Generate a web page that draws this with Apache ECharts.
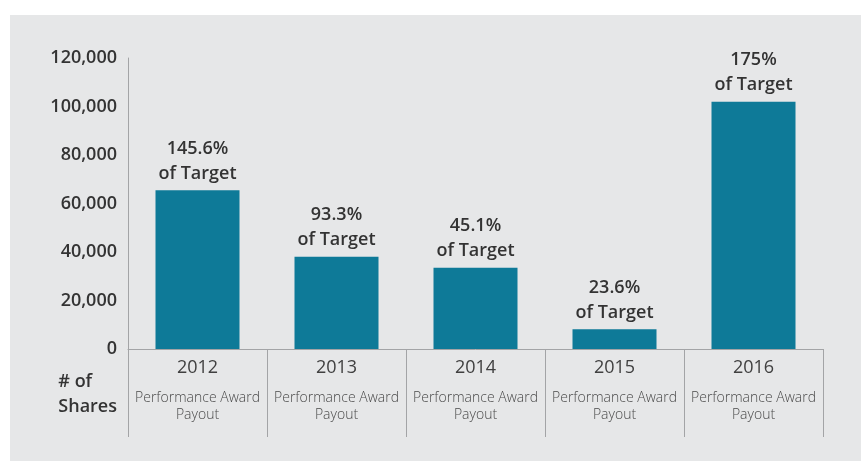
<!DOCTYPE html>
<html>
<head>
<meta charset="utf-8">
<script src="https://cdn.jsdelivr.net/npm/echarts@6/dist/echarts.min.js"></script>
<style>
    html, body { margin: 0; padding: 0; background: #fff; }
    #wrap { position: relative; width: 861px; height: 462px; }
    #bg { position: absolute; left: 10px; top: 15px; width: 851px; height: 446px; background: #e6e7e8; }
    #chart { position: absolute; left: 0; top: 0; width: 861px; height: 462px; }
</style>
</head>
<body>
<div id="wrap">
    <div id="bg"></div>
    <div id="chart"></div>
</div>
<script>
var years = ['2012', '2013', '2014', '2015', '2016'];
var shares = [65500, 38000, 33500, 8100, 102000];
var pctOfTarget = ['145.6%', '93.3%', '45.1%', '23.6%', '175%'];
var yTicks = [0, 20000, 40000, 60000, 80000, 100000, 120000];

var FONT = '"Open Sans", Lato, sans-serif';

function buildChart() {
    var option = {
        animation: false,
        grid: {
            left: 128,
            right: 38,
            top: 58,
            bottom: 113
        },
        xAxis: {
            type: 'category',
            data: years,
            boundaryGap: true,
            axisLine: {
                show: true,
                lineStyle: { color: '#a3a4a6', width: 1 }
            },
            axisTick: {
                show: true,
                length: 88,
                lineStyle: { color: '#a3a4a6', width: 1 }
            },
            axisLabel: {
                margin: -3,
                interval: 0,
                fontFamily: FONT,
                formatter: function (v) {
                    return '{y|' + v + '}\n{s|Performance Award}\n{s|Payout}';
                },
                rich: {
                    y: {
                        fontSize: 18,
                        color: '#404040',
                        fontFamily: FONT,
                        lineHeight: 44
                    },
                    s: {
                        fontSize: 14,
                        color: '#4a4a4a',
                        fontFamily: FONT,
                        fontWeight: 300,
                        lineHeight: 17
                    }
                }
            }
        },
        yAxis: {
            type: 'value',
            min: yTicks[0],
            max: yTicks[yTicks.length - 1],
            interval: yTicks[1] - yTicks[0],
            splitLine: { show: false },
            axisTick: { show: false },
            axisLine: {
                show: true,
                lineStyle: { color: '#a3a4a6', width: 1 }
            },
            axisLabel: {
                margin: 11,
                fontSize: 18,
                fontWeight: 600,
                color: '#333',
                fontFamily: FONT,
                formatter: function (v) {
                    return v.toLocaleString('en-US');
                }
            }
        },
        series: [{
            type: 'bar',
            data: shares,
            barWidth: 84,
            itemStyle: {
                color: '#0e7a98'
            },
            label: {
                show: true,
                position: 'top',
                distance: 4,
                fontSize: 18,
                fontWeight: 600,
                lineHeight: 25,
                color: '#333',
                fontFamily: FONT,
                align: 'center',
                formatter: function (p) {
                    return pctOfTarget[p.dataIndex] + '\nof Target';
                }
            }
        }],
        graphic: [{
            type: 'text',
            right: 861 - 117,
            top: 369,
            style: {
                text: '# of\nShares',
                fontSize: 18,
                fontWeight: 600,
                fontFamily: FONT,
                fill: '#333',
                align: 'right',
                lineHeight: 25
            }
        }]
    };
    var echart = echarts.init(document.getElementById('chart'));
    echart.setOption(option, true);
}
buildChart();
</script>
</body>
</html>
